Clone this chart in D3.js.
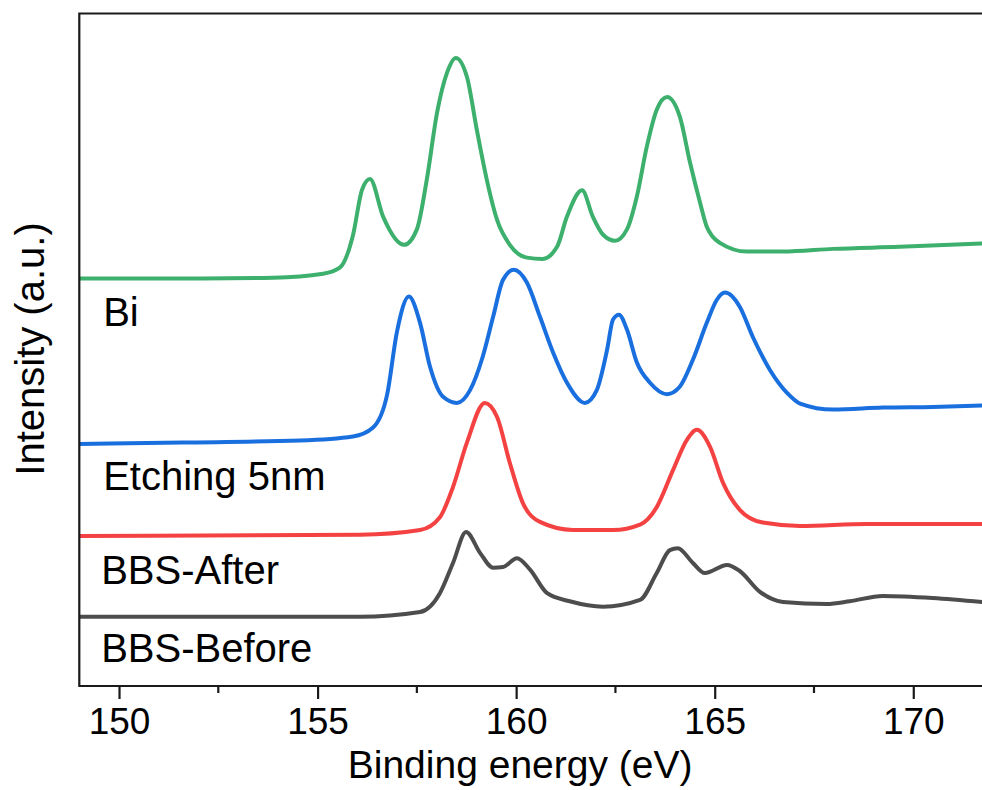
<!DOCTYPE html>
<html>
<head>
<meta charset="utf-8">
<script src="https://cdn.jsdelivr.net/npm/d3@7/dist/d3.min.js"></script>
<style>
  html, body { margin: 0; padding: 0; background: #fff; }
  svg { display: block; }
  text { font-family: Arial, "Liberation Sans", sans-serif; fill: #000; }
</style>
</head>
<body>
<svg id="chart" width="982" height="790"></svg>
<script>
// XPS spectra, offset vertically: [binding energy (eV), intensity (a.u.)]
const bi = [
  [148.99, 60.6], [152.11, 60.6], [153.88, 60.7], [155.14, 61.3], [155.56, 62.2],
  [155.89, 67.0], [156.12, 73.8], [156.32, 75.4], [156.65, 69.8], [157.18, 65.6],
  [157.50, 67.9], [157.75, 75.3], [158.01, 85.3], [158.26, 91.2], [158.48, 93.4],
  [158.76, 90.6], [159.01, 82.7], [159.26, 75.3], [159.52, 69.3], [159.84, 65.6],
  [160.27, 63.7], [160.67, 63.5], [161.03, 65.3], [161.28, 69.8], [161.66, 73.7],
  [161.93, 69.8], [162.19, 67.1], [162.49, 66.2], [162.79, 67.9], [163.04, 72.8],
  [163.29, 80.2], [163.54, 85.7], [163.80, 87.6], [164.12, 84.7], [164.38, 77.8],
  [164.63, 71.9], [164.80, 68.3], [164.95, 66.8], [165.13, 65.9], [165.81, 64.6],
  [166.72, 64.6], [167.98, 65.0], [169.66, 65.3], [171.73, 65.8]
];
const etching5nm = [
  [148.99, 36.0], [151.61, 36.2], [154.56, 36.5], [155.89, 37.1], [156.39, 38.4],
  [156.75, 43.3], [157.00, 52.7], [157.30, 57.9], [157.58, 54.0], [157.83, 47.5],
  [158.16, 43.0], [158.51, 42.1], [158.84, 44.0], [159.16, 49.0], [159.42, 54.9],
  [159.67, 60.4], [159.94, 61.9], [160.27, 60.0], [160.60, 54.9], [160.93, 49.6],
  [161.28, 45.1], [161.73, 42.1], [162.03, 44.0], [162.29, 50.0], [162.44, 54.5],
  [162.59, 55.2], [162.79, 53.0], [163.04, 48.1], [163.37, 45.1], [163.80, 43.4],
  [164.12, 44.5], [164.45, 48.5], [164.80, 54.0], [165.05, 57.4], [165.26, 58.5],
  [165.63, 56.4], [165.96, 51.9], [166.39, 47.0], [166.82, 43.6], [167.15, 42.0],
  [167.98, 41.1], [169.23, 41.4], [170.49, 41.5], [171.73, 41.7]
];
const bbsAfter = [
  [148.99, 22.3], [156.07, 22.5], [157.58, 23.2], [158.08, 25.1], [158.41, 29.6],
  [158.76, 36.2], [159.21, 42.1], [159.52, 40.0], [159.84, 33.2], [160.17, 27.2],
  [160.60, 24.4], [161.43, 23.2], [162.44, 23.2], [163.12, 24.0], [163.54, 26.6],
  [163.95, 32.1], [164.30, 36.6], [164.55, 38.1], [164.88, 35.6], [165.21, 30.2],
  [165.63, 26.2], [166.21, 24.3], [167.15, 23.8], [168.83, 24.1], [171.73, 24.1]
];
const bbsBefore = [
  [148.99, 10.3], [156.07, 10.3], [157.58, 11.0], [158.08, 13.8], [158.41, 18.3],
  [158.74, 22.9], [159.09, 19.8], [159.42, 17.6], [159.67, 17.7], [160.02, 19.0],
  [160.35, 17.3], [160.78, 13.8], [161.35, 12.6], [162.19, 11.8], [163.12, 12.8],
  [163.54, 16.8], [163.87, 20.2], [164.07, 20.5], [164.45, 18.3], [164.75, 16.8],
  [165.31, 18.0], [165.63, 17.1], [166.14, 14.0], [166.72, 12.5], [167.82, 12.2],
  [168.40, 12.6], [169.23, 13.4], [170.49, 13.1], [171.73, 12.5]
];

const seriesNames = ["BBS-Before", "BBS-After", "Etching 5nm", "Bi"];
const seriesColors = ["#4d4d4d", "#f44242", "#1a6fdf", "#3cb06c"];
const seriesData = [bbsBefore, bbsAfter, etching5nm, bi];
// label anchors: [energy, intensity] where each series name sits
const labelPos = [[149.55, 3.5], [149.55, 15.2], [149.6, 29.2], [149.6, 53.5]];

const xTickValues = [150, 155, 160, 165, 170];
const xMinorTicks = [152.5, 157.5, 162.5, 167.5];
const xDomain = [149, 172];
const yDomain = [0, 100];

const svg = d3.select("#chart");
const margin = { left: 79.3, top: 13.5, bottom: 686 };
const plotRight = 992.7;

const x = d3.scaleLinear().domain(xDomain).range([margin.left, plotRight]);
const y = d3.scaleLinear().domain(yDomain).range([margin.bottom, margin.top]);

svg.append("defs").append("clipPath").attr("id", "plot-clip")
  .append("rect")
  .attr("x", margin.left).attr("y", margin.top)
  .attr("width", plotRight - margin.left).attr("height", margin.bottom - margin.top);

const line = d3.line()
  .x(d => x(d[0]))
  .y(d => y(d[1]))
  .curve(d3.curveMonotoneX);

const plot = svg.append("g").attr("clip-path", "url(#plot-clip)");
seriesData.forEach((data, i) => {
  plot.append("path")
    .datum(data)
    .attr("d", line)
    .attr("fill", "none")
    .attr("stroke", seriesColors[i])
    .attr("stroke-width", 4)
    .attr("stroke-linejoin", "round")
    .attr("stroke-linecap", "round");
});

// series labels
seriesNames.forEach((name, i) => {
  svg.append("text")
    .attr("x", x(labelPos[i][0]))
    .attr("y", y(labelPos[i][1]))
    .attr("font-size", 40)
    .text(name);
});

// frame
svg.append("path")
  .attr("d", `M${plotRight},${margin.top}H${margin.left}V${margin.bottom}H${plotRight}`)
  .attr("fill", "none")
  .attr("stroke", "#1a1a1a")
  .attr("stroke-width", 2.2);

// bottom axis
const xAxis = d3.axisBottom(x)
  .tickValues(xTickValues)
  .tickSize(13)
  .tickPadding(9)
  .tickFormat(d3.format("d"));
const gx = svg.append("g")
  .attr("transform", `translate(0,${margin.bottom})`)
  .call(xAxis);
gx.select(".domain").remove();
gx.selectAll(".tick line").attr("stroke", "#1a1a1a").attr("stroke-width", 2.2);
gx.selectAll(".tick text")
  .attr("font-size", 37)
  .attr("font-family", "Arial, 'Liberation Sans', sans-serif")
  .attr("fill", "#000");

svg.append("g")
  .selectAll("line")
  .data(xMinorTicks)
  .join("line")
  .attr("x1", d => x(d)).attr("x2", d => x(d))
  .attr("y1", margin.bottom).attr("y2", margin.bottom + 7)
  .attr("stroke", "#1a1a1a")
  .attr("stroke-width", 2.2);

// axis titles
svg.append("text")
  .attr("x", x(160.1))
  .attr("y", 778)
  .attr("text-anchor", "middle")
  .attr("font-size", 39)
  .text("Binding energy (eV)");

svg.append("text")
  .attr("transform", "translate(44,349) rotate(-90)")
  .attr("text-anchor", "middle")
  .attr("font-size", 40)
  .text("Intensity (a.u.)");
</script>
</body>
</html>
